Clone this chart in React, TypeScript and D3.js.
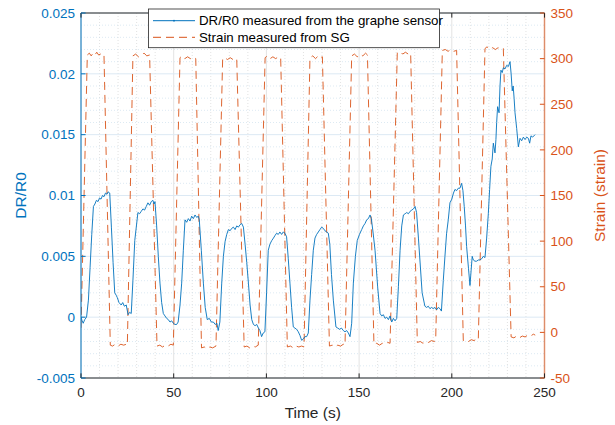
import React from "react";
import * as d3 from "d3";

// ---- data ----
const xTicks = [0, 50, 100, 150, 200, 250];
const leftTicks = [-0.005, 0, 0.005, 0.01, 0.015, 0.02, 0.025];
const leftTickLabels = ["-0.005", "0", "0.005", "0.01", "0.015", "0.02", "0.025"];
const rightTicks = [-50, 0, 50, 100, 150, 200, 250, 300, 350];
const legendLabels = ["DR/R0 measured from the graphe sensor", "Strain measured from SG"];

// DR/R0 from the graphene sensor: [time (s), DR/R0]
const drPoints: [number, number][] = [
  [0, 0.0], [0.6, -0.0003], [1.2, -0.0005], [2.0, -0.0002], [3.0, 0.0], [4.0, 0.0014], [4.9, 0.0041],
  [5.8, 0.0068], [6.7, 0.0091], [7.5, 0.0093], [8.3, 0.0096], [9.2, 0.0095], [10.0, 0.0098], [10.8, 0.0097],
  [11.6, 0.01], [12.4, 0.0099], [13.2, 0.0102], [14.0, 0.0101], [14.6, 0.0103], [15.5, 0.0102], [16.4, 0.0074],
  [17.3, 0.0045], [18.2, 0.002], [19.0, 0.0018], [19.6, 0.0016], [20.5, 0.0012], [21.7, 0.001], [22.5, 0.0012],
  [23.4, 0.0009], [24.4, 0.001], [25.4, 0.0002], [26.2, 0.0004], [27.1, 0.0003], [28.0, 0.003], [29.0, 0.0063],
  [30.7, 0.0086], [31.6, 0.0085], [32.5, 0.0087], [33.4, 0.0089], [34.3, 0.0088], [35.2, 0.0091], [36.1, 0.0094],
  [37.0, 0.0092], [37.9, 0.0095], [38.8, 0.0096], [39.4, 0.0093], [39.9, 0.0095], [40.8, 0.0075], [41.7, 0.005],
  [42.6, 0.0028], [43.5, 0.0012], [44.4, 0.0003], [45.3, 0.0001], [46.2, -0.0001], [47.1, -0.0002], [48.0, -0.0004],
  [48.9, -0.0003], [49.8, -0.0005], [50.7, -0.0006], [51.6, -0.0006], [52.4, -0.0004], [53.4, 0.001], [54.3, 0.0028],
  [55.2, 0.0055], [56.1, 0.008], [57.0, 0.0078], [57.9, 0.0081], [58.8, 0.0079], [59.7, 0.0083], [60.6, 0.0081],
  [61.5, 0.0084], [62.4, 0.0082], [63.3, 0.0083], [63.8, 0.008], [64.9, 0.0055], [66.0, 0.0028], [67.0, 0.0008],
  [68.1, -0.0002], [69.2, -0.0001], [70.3, -0.0004], [71.4, -0.0004], [72.4, -0.0006], [73.3, -0.0005],
  [74.0, -0.0011], [74.9, -0.0004], [75.9, 0.0028], [76.8, 0.005], [77.7, 0.0062], [78.6, 0.0068], [79.5, 0.0072],
  [80.4, 0.0071], [81.3, 0.0073], [82.2, 0.0074], [83.1, 0.0072], [84.0, 0.0075], [84.9, 0.0074], [85.8, 0.0076],
  [86.7, 0.0077], [87.6, 0.0074], [88.5, 0.006], [89.4, 0.0045], [90.3, 0.0028], [91.2, 0.001], [92.1, -0.0002],
  [93.0, -0.0006], [93.9, -0.0007], [94.8, -0.0006], [95.7, -0.0009], [96.5, -0.0011], [97.4, -0.0016],
  [98.3, -0.0013], [99.2, -0.0012], [100.1, 0.002], [101.0, 0.0055], [101.9, 0.006], [102.9, 0.0063],
  [103.8, 0.0065], [104.6, 0.0067], [105.5, 0.0069], [106.4, 0.0068], [107.3, 0.007], [108.2, 0.0068],
  [109.1, 0.007], [110.0, 0.0069], [110.9, 0.0066], [111.8, 0.0048], [112.7, 0.0028], [113.6, 0.0008],
  [114.5, -0.0008], [115.4, -0.0009], [116.3, -0.001], [117.2, -0.0012], [118.1, -0.0015], [119.0, -0.0019],
  [119.9, -0.0018], [120.8, -0.0016], [121.7, -0.0016], [122.6, -0.0013], [123.5, 0.0014], [124.4, 0.0035],
  [125.3, 0.0055], [126.2, 0.0065], [127.1, 0.0068], [128.0, 0.007], [128.9, 0.0072], [129.8, 0.0074],
  [130.7, 0.0073], [131.6, 0.0071], [132.5, 0.007], [133.4, 0.0069], [134.2, 0.006], [135.1, 0.0035],
  [136.1, 0.0014], [137.5, -0.0008], [138.5, -0.0009], [139.5, -0.001], [140.5, -0.0009], [141.5, -0.0011],
  [142.4, -0.0012], [143.3, -0.0011], [144.2, -0.0013], [145.1, -0.0016], [146.0, -0.0005], [146.9, 0.0028],
  [148.0, 0.005], [149.0, 0.0063], [150.2, 0.0068], [151.4, 0.0072], [152.3, 0.0075], [153.2, 0.0077],
  [154.1, 0.008], [155.0, 0.0081], [155.9, 0.0084], [156.6, 0.0081], [157.5, 0.007], [158.6, 0.0055],
  [160.0, 0.0025], [161.3, 0.0003], [162.2, 0.0001], [163.1, 0.0002], [164.0, -0.0001], [164.9, 0.0],
  [165.8, -0.0002], [166.7, 0.0001], [167.6, -0.0004], [168.5, -0.0001], [169.4, -0.0003], [170.3, -0.0001],
  [171.2, 0.0025], [172.1, 0.0055], [173.0, 0.0075], [173.9, 0.0084], [174.8, 0.0085], [175.7, 0.0086],
  [176.6, 0.0085], [177.5, 0.0087], [178.4, 0.0088], [179.3, 0.0089], [180.2, 0.0091], [181.0, 0.0086],
  [182.0, 0.0065], [182.8, 0.0047], [184.0, 0.002], [185.5, 0.0009], [186.4, 0.0008], [187.3, 0.0009],
  [188.2, 0.0007], [189.1, 0.0008], [190.0, 0.0007], [190.9, 0.0008], [191.8, 0.0006], [192.7, 0.0008],
  [193.6, 0.0007], [194.4, 0.0005], [195.4, 0.003], [196.3, 0.005], [197.2, 0.0069], [198.1, 0.008],
  [199.0, 0.0094], [200.0, 0.0097], [200.9, 0.0102], [201.7, 0.0105], [202.6, 0.0104], [203.5, 0.0106],
  [204.4, 0.0106], [205.3, 0.011], [206.0, 0.0104], [206.7, 0.0091], [207.4, 0.0075], [208.0, 0.0058],
  [209.0, 0.004], [209.8, 0.0026], [210.4, 0.0038], [211.0, 0.005], [211.6, 0.0047], [212.5, 0.0046],
  [213.4, 0.0046], [214.3, 0.0047], [215.2, 0.0047], [216.1, 0.0048], [217.0, 0.005], [217.9, 0.0049],
  [218.8, 0.0065], [219.7, 0.0085], [220.4, 0.0105], [221.1, 0.0124], [221.8, 0.013], [222.4, 0.0143],
  [223.3, 0.0135], [223.8, 0.0146], [224.2, 0.016], [224.7, 0.0173], [225.5, 0.0168], [226.0, 0.019],
  [226.5, 0.0203], [227.2, 0.0201], [227.8, 0.0205], [228.7, 0.0204], [229.6, 0.0207], [230.5, 0.0206],
  [231.4, 0.021], [232.0, 0.02], [232.6, 0.0186], [233.1, 0.019], [233.6, 0.018], [234.1, 0.0168],
  [235.0, 0.0155], [235.9, 0.014], [236.8, 0.0147], [237.7, 0.0145], [238.6, 0.0148], [239.5, 0.0146],
  [240.4, 0.0148], [241.3, 0.0147], [242.0, 0.0143], [242.7, 0.0149], [243.6, 0.0148], [244.9, 0.015],
];

// Strain measured from the strain gauge: [time (s), strain]
const strainPoints: [number, number][] = [
  [0, 5], [3.4, 304], [4.5, 306], [5.5, 303], [6.5, 306], [7.5, 304], [8.5, 307], [9.5, 304], [10.5, 305], [11.5, 303], [12.4, 304],
  [15.8, -14], [17, -15], [18.5, -13], [20, -15], [21.5, -13], [23, -14], [24.5, -13], [25, -14],
  [28, 303], [29.5, 305], [31, 302], [32.5, 304], [34, 306], [35.5, 303], [37, 304],
  [41, -15], [42.5, -14], [44, -16], [45.5, -14], [47, -15], [48.5, -13], [49.8, -14],
  [53.4, 301], [54.5, 303], [56, 300], [57.5, 302], [59, 300], [60.5, 302], [61.9, 300],
  [65, -17], [66.5, -16], [68, -18], [69.5, -16], [71, -17], [72.8, -15],
  [76.4, 300], [77.5, 301], [79, 299], [80.5, 301], [82, 299], [84, 300],
  [88, -16], [89.5, -15], [91, -17], [92.5, -15], [94, -16], [95.6, -14],
  [99.3, 301], [100.5, 303], [102, 300], [103.5, 302], [105, 300], [106.5, 302], [107.7, 301],
  [111.3, -16], [113, -15], [114.5, -17], [116, -15], [117.5, -16], [119, -15], [120.3, -16],
  [123.5, 301], [125, 303], [126.5, 300], [128, 303], [129, 301], [130.2, 302],
  [134, -15], [135.5, -14], [137, -16], [138.5, -14], [140, -15], [141.5, -13], [142.4, -14],
  [146, 303], [147.5, 305], [149, 302], [150.5, 305], [152, 303], [153.5, 306], [154.5, 304],
  [158, -13], [159.5, -12], [161, -14], [162.5, -12], [164, -13], [165.5, -11], [166.7, -12],
  [170.6, 306], [172, 308], [173.5, 305], [175, 307], [176.5, 305], [177.8, 306],
  [181.4, -11], [183, -10], [184.5, -12], [186, -10], [187.5, -11], [189, -9], [190.5, -10], [191.3, -9],
  [194.9, 309], [196.5, 310], [198, 308], [199.5, 310], [201, 308], [202.6, 309],
  [206.2, -9], [207.5, -8], [209, -10], [210.5, -8], [212, -9], [213.5, -7], [214.3, -8],
  [217.9, 311], [219, 313], [220.5, 310], [222, 312], [223.5, 310], [225, 312], [226.5, 310], [227.8, 311],
  [232, -5], [233.5, -6], [235, -4], [236.5, -6], [238, -4], [239.5, -5], [241, -3], [242.5, -4], [244, -2], [245, -3],
];

// ---- layout ----
const W = 615;
const H = 425;
const L = 81;
const R = 544.5;
const T = 13;
const B = 378;
const BLUE = "#0072BD";
const ORANGE = "#D95319";
const DARK = "#262626";
const FONT = "'Liberation Sans', Arial, Helvetica, sans-serif";

export default function App() {
  const x = d3.scaleLinear().domain([0, 250]).range([L, R]);
  const yL = d3.scaleLinear().domain([-0.005, 0.025]).range([B, T]);
  const yR = d3.scaleLinear().domain([-50, 350]).range([B, T]);

  const drLine = d3.line<[number, number]>().x((d) => x(d[0])).y((d) => yL(d[1]));
  const strainLine = d3.line<[number, number]>().x((d) => x(d[0])).y((d) => yR(d[1]));

  const minorX = d3.range(0, 251, 10).filter((v) => v % 50 !== 0);
  const minorY = d3.range(-5, 26, 1).filter((v) => v % 5 !== 0).map((v) => v / 1000);
  const tickLen = 4.6;

  return (
    <svg width={W} height={H} style={{ position: "absolute", left: 0, top: 0, background: "#fff" }} fontFamily={FONT}>
      <defs>
        <clipPath id="plotClip">
          <rect x={L} y={T} width={R - L} height={B - T} />
        </clipPath>
      </defs>
      <rect x={0} y={0} width={W} height={H} fill="#fff" />
      {/* minor grid */}
      {minorX.map((v) => (
        <line key={"mx" + v} x1={x(v)} x2={x(v)} y1={T} y2={B} stroke="#cfcfcf" strokeWidth={0.6} strokeDasharray="1,2" />
      ))}
      {minorY.map((v) => (
        <line key={"my" + v} x1={L} x2={R} y1={yL(v)} y2={yL(v)} stroke="#c6dbeb" strokeWidth={0.6} strokeDasharray="1,2" />
      ))}
      {/* major grid */}
      {xTicks.map((v) => (
        <line key={"gx" + v} x1={x(v)} x2={x(v)} y1={T} y2={B} stroke="#e3e3e3" strokeWidth={1} />
      ))}
      {leftTicks.map((v) => (
        <line key={"gy" + v} x1={L} x2={R} y1={yL(v)} y2={yL(v)} stroke="#dce9f4" strokeWidth={1} />
      ))}

      {/* data */}
      <g clipPath="url(#plotClip)">
        <path d={strainLine(strainPoints) || ""} fill="none" stroke={ORANGE} strokeWidth={0.9} strokeDasharray="8,5" />
        <path d={drLine(drPoints) || ""} fill="none" stroke={BLUE} strokeWidth={0.9} />
      </g>

      {/* box / axes */}
      <line x1={L} x2={R} y1={T} y2={T} stroke={DARK} strokeWidth={1} />
      <line x1={L} x2={R} y1={B} y2={B} stroke={DARK} strokeWidth={1} />
      <line x1={L} x2={L} y1={T} y2={B} stroke={BLUE} strokeWidth={1} />
      <line x1={R} x2={R} y1={T} y2={B} stroke={ORANGE} strokeWidth={1.5} strokeOpacity={0.6} />

      {/* x ticks */}
      {xTicks.map((v) => (
        <g key={"xt" + v}>
          <line x1={x(v)} x2={x(v)} y1={B} y2={B - tickLen} stroke={DARK} />
          <line x1={x(v)} x2={x(v)} y1={T} y2={T + tickLen} stroke={DARK} />
          <text x={x(v)} y={B + 19} textAnchor="middle" fontSize={13.5} fill={DARK}>
            {v}
          </text>
        </g>
      ))}
      {/* left ticks */}
      {leftTicks.map((v, i) => (
        <g key={"lt" + v}>
          <line x1={L} x2={L + tickLen} y1={yL(v)} y2={yL(v)} stroke={BLUE} />
          <text x={L - 6} y={yL(v)} dy="0.35em" textAnchor="end" fontSize={13.5} fill={BLUE}>
            {leftTickLabels[i]}
          </text>
        </g>
      ))}
      {/* right ticks */}
      {rightTicks.map((v) => (
        <g key={"rt" + v}>
          <line x1={R} x2={R - tickLen} y1={yR(v)} y2={yR(v)} stroke={ORANGE} />
          <text x={R + 6} y={yR(v)} dy="0.35em" textAnchor="start" fontSize={13.5} fill={ORANGE}>
            {v}
          </text>
        </g>
      ))}

      {/* axis labels */}
      <text x={(L + R) / 2} y={418} textAnchor="middle" fontSize={15.5} fill={DARK}>
        Time (s)
      </text>
      <text transform={`translate(26,${(T + B) / 2}) rotate(-90)`} textAnchor="middle" fontSize={15.5} fill={BLUE}>
        DR/R0
      </text>
      <text transform={`translate(604.5,${(T + B) / 2}) rotate(-90)`} textAnchor="middle" fontSize={15.5} fill={ORANGE}>
        Strain (strain)
      </text>

      {/* legend */}
      <g>
        <rect x={148.5} y={9} width={291} height={38.7} fill="#fff" stroke={DARK} strokeWidth={0.8} />
        <line x1={153} x2={195} y1={20.7} y2={20.7} stroke={BLUE} strokeWidth={1} />
        <circle cx={174} cy={20.7} r={0.9} fill={BLUE} />
        <text x={199} y={20.7} dy="0.35em" fontSize={13.3} fill="#000">
          {legendLabels[0]}
        </text>
        <line x1={153} x2={195} y1={37.3} y2={37.3} stroke={ORANGE} strokeWidth={1} strokeDasharray="8,5" />
        <text x={199} y={37.3} dy="0.35em" fontSize={13.3} fill="#000">
          {legendLabels[1]}
        </text>
      </g>
    </svg>
  );
}
